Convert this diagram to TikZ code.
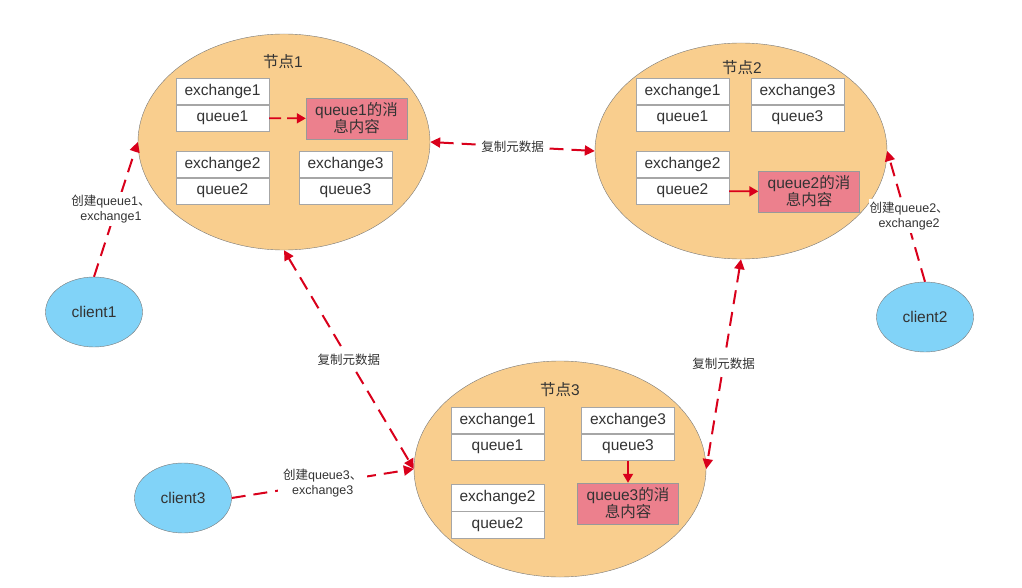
\documentclass[tikz,border=0pt]{standalone}
\usepackage{fontspec}
\setmainfont{Liberation Sans}
\newfontfamily\cjk{Noto Sans CJK SC}
\usetikzlibrary{positioning,arrows.meta,shapes.geometric}
\definecolor{peach}{HTML}{F9CE8E}
\definecolor{sky}{HTML}{81D3F8}
\definecolor{rose}{HTML}{EC808D}
\definecolor{alarm}{HTML}{D9001B}
\definecolor{ink}{HTML}{333333}
\definecolor{rim}{HTML}{797979}

\begin{document}
\begin{tikzpicture}[x=1pt,y=-1pt,
    every node/.style={text=ink,font=\fontsize{15.5}{18}\selectfont},
    host/.style={ellipse,draw=rim,fill=peach,minimum width=292pt,minimum height=216pt,inner sep=0pt},
    client/.style={ellipse,draw=rim,fill=sky,minimum width=97pt,minimum height=70pt,inner sep=0pt},
    cell/.style={draw=gray!70,fill=white,minimum width=93pt,minimum height=26.5pt,inner sep=0pt},
    msg/.style={draw=gray!80,fill=rose,minimum width=101pt,minimum height=41pt,inner sep=0pt,
        align=center,font=\fontsize{15.5}{17}\selectfont},
    sync/.style={draw=alarm,line width=2pt,dash pattern=on 14pt off 8pt,
        {Triangle[length=10pt,width=10pt]}-{Triangle[length=10pt,width=10pt]}},
    create/.style={draw=alarm,line width=2pt,dash pattern=on 14pt off 8pt,
        -{Triangle[length=10pt,width=10pt]}},
    push/.style={draw=alarm,line width=1.8pt,-{Triangle[length=9pt,width=10pt]}},
    tag/.style={fill=white,inner xsep=1pt,inner ysep=3pt,align=center,font=\fontsize{12.5}{15}\selectfont}]
    \useasboundingbox (0,0) rectangle (1022,588);

    % broker nodes
    \node[host] (n1) at (284,142) {};
    \node[host] (n2) at (741,151) {};
    \node[host] (n3) at (560,469) {};
    \node (t1) at (283,62) {{\cjk 节点}1};
    \node (t2) at (742,68) {{\cjk 节点}2};
    \node (t3) at (560,390) {{\cjk 节点}3};

    % node 1
    \node[cell] (n1e1) at (222.5,91.25) {exchange1};
    \node[cell,below=0pt of n1e1] (n1q1) {queue1};
    \node[cell] (n1e2) at (222.5,164.25) {exchange2};
    \node[cell,below=0pt of n1e2] (n1q2) {queue2};
    \node[cell] (n1e3) at (345.5,164.25) {exchange3};
    \node[cell,below=0pt of n1e3] (n1q3) {queue3};
    \node[msg] (m1) at (356.5,118.5) {queue1{\cjk 的消}\\{\cjk 息内容}};

    % node 2
    \node[cell] (n2e1) at (682.5,91.25) {exchange1};
    \node[cell,below=0pt of n2e1] (n2q1) {queue1};
    \node[cell] (n2e3) at (797.5,91.25) {exchange3};
    \node[cell,below=0pt of n2e3] (n2q3) {queue3};
    \node[cell] (n2e2) at (682.5,164.25) {exchange2};
    \node[cell,below=0pt of n2e2] (n2q2) {queue2};
    \node[msg] (m2) at (809,191.5) {queue2{\cjk 的消}\\{\cjk 息内容}};

    % node 3
    \node[cell] (n3e1) at (497.5,420.25) {exchange1};
    \node[cell,below=0pt of n3e1] (n3q1) {queue1};
    \node[cell] (n3e3) at (628,420.25) {exchange3};
    \node[cell,below=0pt of n3e3] (n3q3) {queue3};
    \node[cell] (n3e2) at (497.5,497.75) {exchange2};
    \node[cell,below=0pt of n3e2] (n3q2) {queue2};
    \node[msg] (m3) at (628,503.5) {queue3{\cjk 的消}\\{\cjk 息内容}};

    % clients
    \node[client] (c1) at (94,312) {client1};
    \node[client] (c2) at (925,317) {client2};
    \node[client] (c3) at (183,498) {client3};

    \draw[push,dash pattern=on 12pt off 6pt] (n1q1) -- (m1);
    \draw[push] (n2q2) -- (m2);
    \draw[push] (n3q3) -- (m3);

    \draw[sync] (n1.east) -- node[tag,inner xsep=5pt] {\cjk 复制元数据} (n2.west);
    \draw[sync] (n1.south) -- node[tag] {\cjk 复制元数据} (n3.west);
    \draw[sync] (n2.south) -- node[tag] {\cjk 复制元数据} (n3.east);

    \draw[create] (c1.north) -- node[tag,xshift=-5pt] {{\cjk 创建}queue1{\cjk 、}\\exchange1} (n1.west);
    \draw[create] (c2.north) -- node[tag,xshift=3pt] {{\cjk 创建}queue2{\cjk 、}\\exchange2} (n2.east);
    \draw[create] (c3.east) -- node[tag,inner xsep=5pt] {{\cjk 创建}queue3{\cjk 、}\\exchange3} (n3.west);
\end{tikzpicture}
\end{document}
